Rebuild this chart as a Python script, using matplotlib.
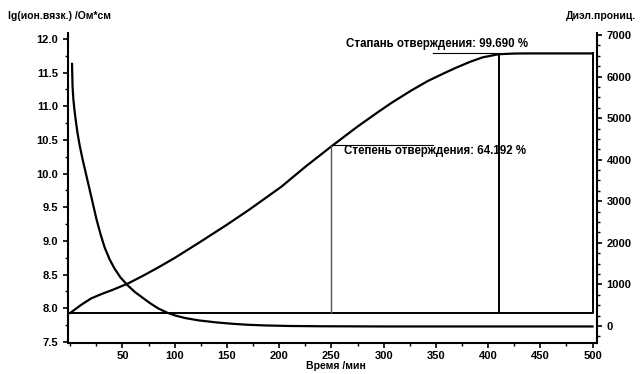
import matplotlib.pyplot as plt
from matplotlib.ticker import MultipleLocator
import numpy as np

plt.rcParams['font.family'] = ['Liberation Sans', 'DejaVu Sans']

# ion viscosity, lg(Ohm*cm), left axis
visc_t = [1.7, 2.2, 3, 4, 5.2, 7, 9, 12, 15, 18, 21, 25, 29, 33, 37.6, 42, 48, 55, 62, 69, 76, 84, 92,
          100, 110, 123, 140, 155, 170, 187, 210, 240, 300, 400, 500]
visc_v = [11.63, 11.3, 11.1, 10.95, 10.8, 10.6, 10.42, 10.2, 10.0, 9.8, 9.6, 9.33, 9.1, 8.9, 8.73, 8.6,
          8.46, 8.34, 8.24, 8.16, 8.08, 8.0, 7.94, 7.895, 7.855, 7.82, 7.79, 7.77, 7.755, 7.745, 7.737,
          7.733, 7.73, 7.73, 7.73]

# degree of cure, %
cure_t = [0, 5, 10, 20, 30, 40, 55, 70, 85, 100, 123, 150, 171, 202, 225, 250, 275, 295, 307, 326,
          342, 358, 370, 383, 395, 410, 425, 440, 470, 500]
cure_p = [0, 1.5, 3.0, 5.6, 7.3, 8.8, 11.3, 14.4, 17.7, 21.2, 27.0, 34.0, 39.7, 48.6, 56.3, 64.192,
          71.8, 77.5, 80.8, 85.6, 89.3, 92.4, 94.6, 96.8, 98.5, 99.69, 99.95, 100, 100, 100]

marks_t = [250, 410]
marks_p = [64.192, 99.690]
marks_txt = ['Степень отверждения: 64.192 %', 'Стапань отверждения: 99.690 %']

fig = plt.figure(figsize=(6.43, 3.74), dpi=100)
ax = fig.add_axes([0.106, 0.083, 0.822, 0.829])
ax2 = ax.twinx()
ax3 = ax.twinx()

ax.plot(visc_t, visc_v, color='black', lw=1.6)
ax.set_xlim(-2, 504)
ax.set_ylim(7.485, 12.09)
ax.xaxis.set_major_locator(MultipleLocator(50))
ax.xaxis.set_minor_locator(MultipleLocator(25))
ax.yaxis.set_major_locator(MultipleLocator(0.5))
ax.yaxis.set_minor_locator(MultipleLocator(0.25))
ax.set_xticks(np.arange(50, 501, 50))

ax2.set_ylim(-410, 7050)
ax2.yaxis.set_major_locator(MultipleLocator(1000))
ax2.yaxis.set_minor_locator(MultipleLocator(250))

# cure curve on its own hidden scale
ax3.set_ylim(-11.56, 107.9)
ax3.axis('off')
ax3.plot(cure_t, cure_p, color='black', lw=1.6)
ax3.plot([0, 500, 500], [0, 0, 100], color='black', lw=1.4)
ax3.plot([marks_t[0], marks_t[0]], [0, marks_p[0]], color='#555555', lw=1.0)
ax3.plot([marks_t[1], marks_t[1]], [0, marks_p[1]], color='black', lw=1.4)
ax3.plot([marks_t[0], 347], [marks_p[0] + 0.5, marks_p[0] + 0.5], color='black', lw=0.8)
ax3.plot([347, marks_t[1]], [100, 100], color='black', lw=0.8)
ax3.text(262, 62.3, marks_txt[0], fontsize=8.3, va='center', ha='left', fontweight='bold')
ax3.text(264, 103.5, marks_txt[1], fontsize=8.3, va='center', ha='left', fontweight='bold')

for a in (ax, ax2):
    a.spines['top'].set_visible(False)
    a.tick_params(direction='out', labelsize=8, width=1.2, length=3.5)
    a.tick_params(which='minor', direction='out', length=2, width=1)
    for lab in a.get_xticklabels() + a.get_yticklabels():
        lab.set_fontweight('bold')
for s in ('left', 'bottom'):
    ax.spines[s].set_linewidth(1.5)
ax2.spines['right'].set_linewidth(1.5)
ax.spines['right'].set_visible(False)
ax2.spines['left'].set_visible(False)
ax2.spines['bottom'].set_visible(False)
ax.tick_params(axis='x', pad=2)

fig.text(0.012, 0.958, 'lg(ион.вязк.) /Ом*см', fontsize=7.5, fontweight='bold', va='center')
fig.text(0.99, 0.958, 'Диэл.прониц.', fontsize=7.5, fontweight='bold', va='center', ha='right')
fig.text(0.522, 0.022, 'Время /мин', fontsize=7.5, fontweight='bold', va='center', ha='center')

fig.savefig('out.png', dpi=100)
